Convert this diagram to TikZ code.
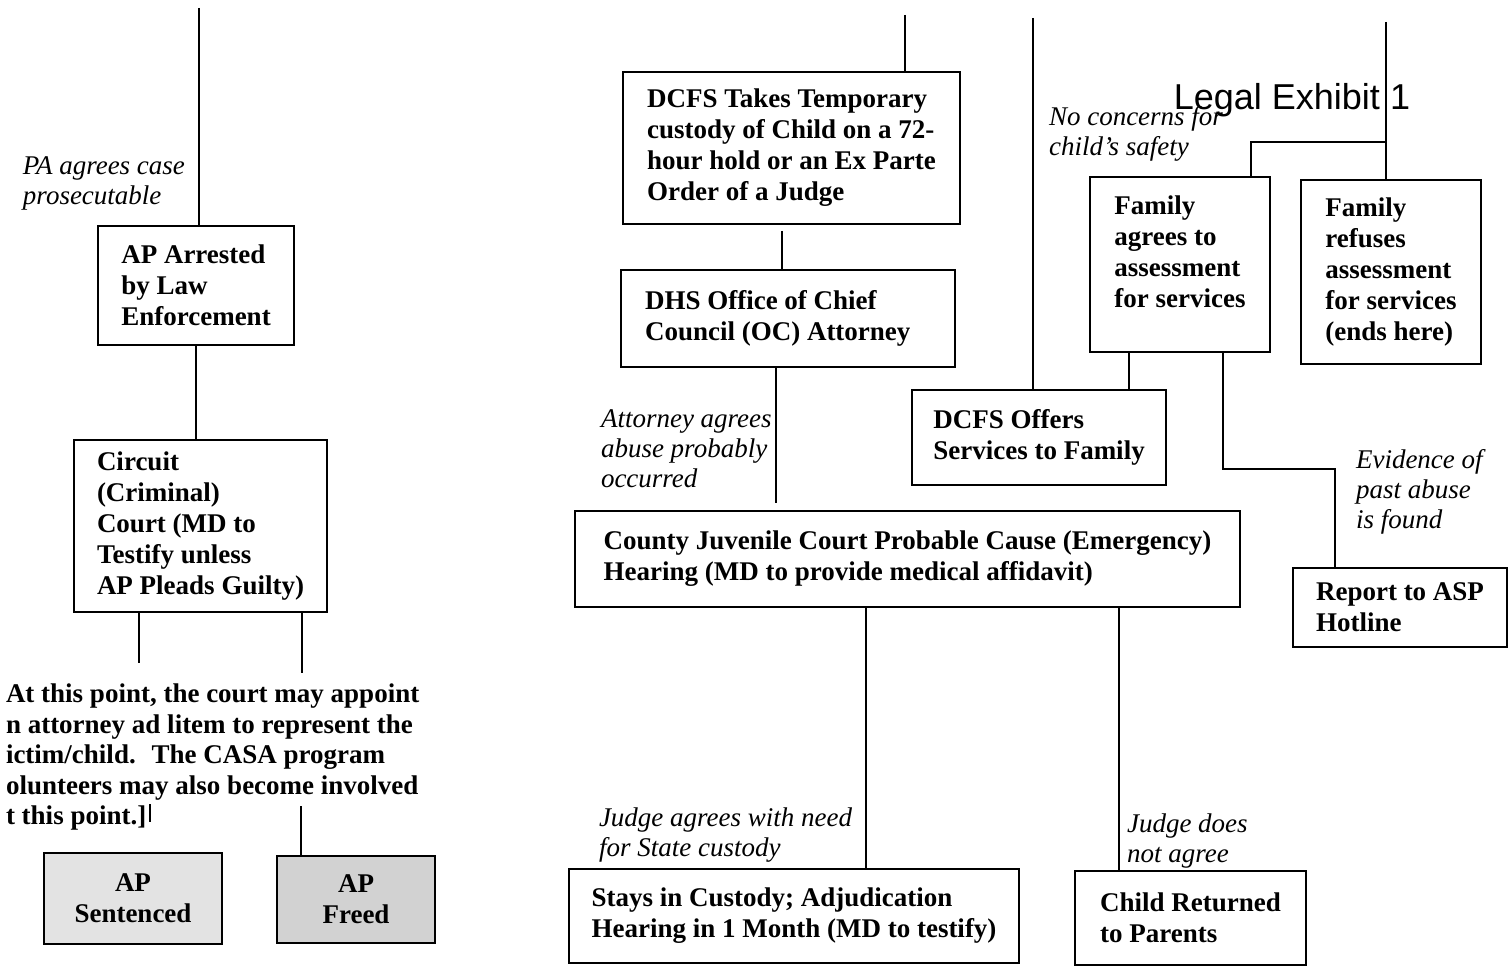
\documentclass[tikz,border=0pt]{standalone}
\usepackage{fontspec}
\setmainfont{Liberation Serif}
\newfontfamily\exhibitfont{Liberation Sans}
\begin{document}
\begin{tikzpicture}[x=0.5pt,y=-0.5pt,line width=1pt,
    box/.style={draw,line width=1pt,align=left,inner sep=0pt,font=\fontsize{13.5}{15.5}\selectfont\bfseries},
    greybox/.style={box,align=center,fill=gray!22},
    cond/.style={anchor=north west,align=left,inner sep=0pt,font=\fontsize{13.5}{15}\selectfont\itshape}]
    \useasboundingbox (0,0) rectangle (1510,972);
    \node[box,minimum width=98pt,minimum height=59.5pt] (arrest) at (196,285.5) {AP Arrested\\by Law\\Enforcement};
    \node[box,minimum width=126.5pt,minimum height=86pt] (circuit) at (200.5,526) {Circuit\\(Criminal)\\Court (MD to\\Testify unless\\AP Pleads Guilty)};
    \node[greybox,minimum width=89pt,minimum height=45.5pt] (sentenced) at (133,898.5) {AP\\Sentenced};
    \node[greybox,fill=gray!35,minimum width=79pt,minimum height=43.5pt] (freed) at (356,899.5) {AP\\Freed};
    \node[anchor=north west,inner sep=0pt,align=left,font=\fontsize{13.5}{15.25}\selectfont\bfseries] (note) at (5,683) {At this point, the court may appoint\\n attorney ad litem to represent the\\ictim/child.~ The CASA program\\olunteers may also become involved\\t this point.]};
    \node[box,minimum width=168.5pt,minimum height=76pt] (custody) at (791.5,148) {DCFS Takes Temporary\\custody of Child on a 72-\\hour hold or an Ex Parte\\Order of a Judge};
    \node[box,align=flush left,inner xsep=12pt,text width=143pt,minimum height=48.5pt] (chief) at (788,318.5) {DHS Office of Chief\\Council (OC) Attorney};
    \node[box,minimum width=127pt,minimum height=47.5pt] (offers) at (1039,437.5) {DCFS Offers\\Services to Family};
    \node[box,minimum width=332.5pt,minimum height=48pt] (hearing) at (907.5,559) {County Juvenile Court Probable Cause (Emergency)\\Hearing (MD to provide medical affidavit)};
    \node[box,minimum width=90pt,minimum height=87.5pt] (agrees) at (1180,264.5) {Family\\agrees to\\assessment\\for services\\[-2.5pt]\mbox{}};
    \node[box,minimum width=90pt,minimum height=92pt] (refuses) at (1391,272) {Family\\refuses\\assessment\\for services\\(ends here)};
    \node[box,minimum width=107pt,minimum height=39.5pt] (hotline) at (1400,607.5) {Report to ASP\\Hotline};
    \node[box,minimum width=225pt,minimum height=47pt] (stays) at (794,916) {Stays in Custody; Adjudication\\Hearing in 1 Month (MD to testify)};
    \node[box,minimum width=115.5pt,minimum height=47pt] (returned) at (1190.5,918) {Child Returned\\to Parents};
    \node[font=\exhibitfont\fontsize{18}{20}\selectfont,inner sep=0pt] (exhibit) at (1292,100) {Legal Exhibit 1};
    \node[cond] (prosecute) at (22,156) {PA agrees case\\prosecutable};
    \node[cond] (probable) at (600,409) {Attorney agrees\\abuse probably\\occurred};
    \node[cond] (safety) at (1048,105) {No concerns for\\child's safety};
    \node[cond] (evidence) at (1355,448) {Evidence of\\past abuse\\is found};
    \node[cond] (need) at (598,807) {Judge agrees with need\\for State custody};
    \node[cond] (disagree) at (1126,813) {Judge does\\not agree};
    \coordinate (topA) at (199,8);
    \draw (topA) -- (topA |- arrest.north);
    \draw (arrest.south) -- (arrest.south |- circuit.north);
    \coordinate (toSent) at (139,663);
    \coordinate (toFree) at (302,673);
    \draw (toSent |- circuit.south) -- (toSent);
    \draw (toFree |- circuit.south) -- (toFree);
    \coordinate (tick) at (150,804);
    \draw (tick) -- ++(0,18);
    \coordinate (intoFree) at (301,806);
    \draw (intoFree) -- (intoFree |- freed.north);
    \coordinate (topB) at (905,15);
    \draw (topB) -- (topB |- custody.north);
    \coordinate (gapC) at (782,231);
    \draw (gapC) -- (gapC |- chief.north);
    \coordinate (endD) at (776,503);
    \draw (endD |- chief.south) -- (endD);
    \coordinate (topC) at (1033,18);
    \draw (topC) -- (topC |- offers.north);
    \coordinate (famL) at (1129,370);
    \draw (famL |- agrees.south) -- (famL |- offers.north);
    \coordinate (bendA) at (1223,469);
    \coordinate (bendB) at (1335,469);
    \draw (bendA |- agrees.south) -- (bendA) -- (bendB) -- (bendB |- hotline.north);
    \coordinate (topD) at (1386,22);
    \draw (topD) -- (topD |- refuses.north);
    \coordinate (split) at (1251,142);
    \draw (split -| topD) -- (split) -- (split |- agrees.north);
    \coordinate (toStay) at (866,0);
    \draw (toStay |- hearing.south) -- (toStay |- stays.north);
    \coordinate (toHome) at (1119,0);
    \draw (toHome |- hearing.south) -- (toHome |- returned.north);
\end{tikzpicture}
\end{document}
